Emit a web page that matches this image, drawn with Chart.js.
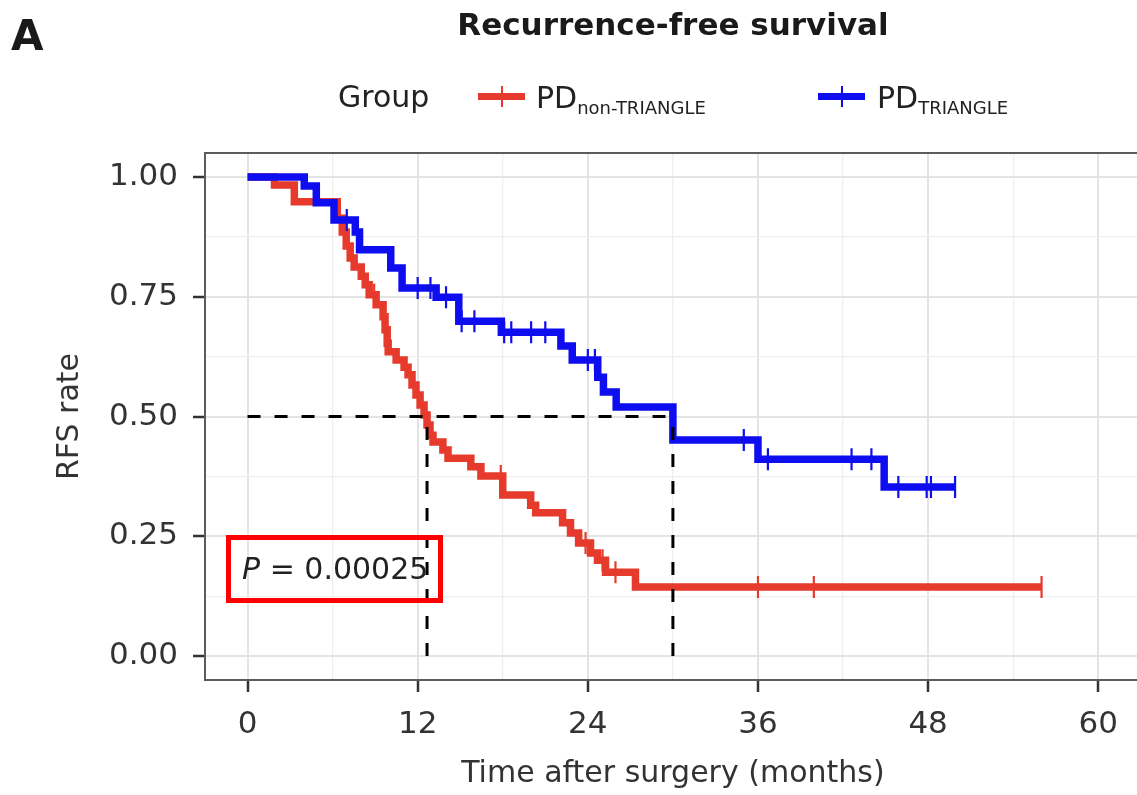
<!DOCTYPE html>
<html>
<head>
<meta charset="utf-8">
<title>Recurrence-free survival</title>
<script src="https://cdn.jsdelivr.net/npm/chart.js@4.4.1/dist/chart.umd.min.js"></script>
<style>
  html, body { margin: 0; padding: 0; background: #fff; overflow: hidden; }
  #wrap { position: relative; width: 1137px; height: 795px; overflow: hidden;
          font-family: 'DejaVu Sans', sans-serif; color: #222; }
  #km { position: absolute; left: 0; top: 0; }
  .txt { position: absolute; white-space: nowrap; line-height: 1; }
  #panelTag { left: 11px; top: 15px; font-size: 42px; font-weight: bold; color: #1a1a1a; }
  #title { left: 673px; top: 9px; font-size: 31px; font-weight: bold; transform: translateX(-50%); color: #1a1a1a; }
  #groupLbl { left: 338px; top: 82px; font-size: 30px; color: #222; }
  .lg { font-size: 30px; top: 83px; color: #222; }
  .lg .sb { font-size: 18px; vertical-align: -6px; }
  .seg { position: absolute; height: 7px; width: 47px; top: 93px; }
  .tk { position: absolute; width: 2px; height: 21px; top: 86px; }
  #pbox { position: absolute; left: 226px; top: 535px; width: 217px; height: 68px;
          box-sizing: border-box; border: 5px solid #ff0000; }
  #ptext { left: 242px; top: 554px; font-size: 30px; color: #222; }
</style>
</head>
<body>
<div id="wrap">
  <canvas id="km" width="1154" height="795"></canvas>
  <div class="txt" id="panelTag">A</div>
  <div class="txt" id="title">Recurrence-free survival</div>
  <div class="txt" id="groupLbl">Group</div>
  <div class="seg" id="segRed" style="left:478px"></div>
  <div class="tk" id="tkRed" style="left:501px"></div>
  <div class="txt lg" style="left:536px">PD<span class="sb">non-TRIANGLE</span></div>
  <div class="seg" id="segBlue" style="left:818px"></div>
  <div class="tk" id="tkBlue" style="left:841px"></div>
  <div class="txt lg" style="left:877px">PD<span class="sb">TRIANGLE</span></div>
  <div id="pbox"></div>
  <div class="txt" id="ptext"><i>P</i> = 0.00025</div>
</div>
<script>
// Kaplan–Meier estimates: time (months) at which the estimate changes and its value from then on
const redTimes = [0, 1.9, 3.3, 6.33, 6.68, 6.96, 7.24, 7.52, 8.02, 8.30, 8.58, 9.07, 9.56, 9.70, 9.85, 9.92,
                  10.48, 11.04, 11.32, 11.60, 11.88, 12.17, 12.45, 12.66, 12.87, 13.08, 13.78, 14.14,
                  15.75, 16.46, 18.0, 19.97, 20.32, 22.22, 22.78, 23.35, 24.19, 24.68, 25.25, 27.36];
const redSurv  = [1.000, 0.983, 0.948, 0.914, 0.885, 0.856, 0.831, 0.812, 0.793, 0.775, 0.754, 0.733, 0.708, 0.681, 0.653, 0.635,
                  0.618, 0.603, 0.587, 0.566, 0.545, 0.524, 0.503, 0.482, 0.461, 0.447, 0.430, 0.413,
                  0.395, 0.376, 0.336, 0.315, 0.299, 0.278, 0.257, 0.236, 0.215, 0.200, 0.175, 0.144];
const redLastFollowUp = 56.0;
const redCensored = [8.93, 17.86, 23.84, 25.04, 25.95, 36.0, 39.94, 56.0];

const blueTimes = [0, 4.0, 4.85, 6.1, 7.6, 7.9, 10.1, 10.9, 13.3, 14.9, 17.9, 22.1, 22.9, 24.7, 25.1, 26.0, 30.0, 36.0, 44.9];
const blueSurv  = [1.000, 0.981, 0.946, 0.910, 0.885, 0.848, 0.810, 0.768, 0.749, 0.699, 0.676, 0.647, 0.618, 0.582, 0.551, 0.520, 0.451, 0.411, 0.353];
const blueLastFollowUp = 49.9;
const blueCensored = [7.0, 12.0, 12.9, 14.0, 15.1, 16.0, 18.1, 18.6, 20.0, 21.0, 24.0, 24.5, 35.0, 36.7, 42.6, 44.0, 45.9, 47.9, 48.2, 49.9];

const groupNames = ['PD non-TRIANGLE', 'PD TRIANGLE'];
const xMajorTicks = [0, 12, 24, 36, 48, 60];
const xMinorTicks = [6, 18, 30, 42, 54];
const yMajorTicks = [0, 0.25, 0.5, 0.75, 1];
const yMinorTicks = [0.125, 0.375, 0.625, 0.875];

const RED = '#e63a2c';
const BLUE = '#0d0df0';

document.getElementById('segRed').style.background = RED;
document.getElementById('tkRed').style.background = RED;
document.getElementById('segBlue').style.background = BLUE;
document.getElementById('tkBlue').style.background = BLUE;

function stepPoints(times, surv, lastT) {
  const pts = times.map((t, i) => ({ x: t, y: surv[i] }));
  pts.push({ x: lastT, y: surv[surv.length - 1] });
  return pts;
}
function survivalAt(times, surv, t) {
  let v = surv[0];
  for (let i = 0; i < times.length; i++) if (times[i] <= t) v = surv[i];
  return v;
}
function medianTime(times, surv) {
  for (let i = 0; i < times.length; i++) if (surv[i] <= 0.5) return times[i];
  return null;
}

const redMedian = medianTime(redTimes, redSurv);
const blueMedian = medianTime(blueTimes, blueSurv);

const dashStyle = { borderColor: '#000', borderWidth: 3, borderDash: [13, 14], pointRadius: 0, fill: false, order: 0 };
const censorStyle = { type: 'scatter', pointStyle: 'line', rotation: 90, pointRadius: 11, pointHoverRadius: 11, pointBorderWidth: 2.2, order: 1 };

// Panel border: left, top and bottom of the plotting area
const panelBorder = {
  id: 'panelBorder',
  beforeDatasetsDraw(chart) {
    const { ctx, chartArea: a } = chart;
    ctx.save();
    ctx.strokeStyle = '#5c5c5c';
    ctx.lineWidth = 2;
    ctx.strokeRect(a.left, a.top, a.right - a.left, a.bottom - a.top);
    ctx.restore();
  }
};

const isMajor = (list, v) => list.some(m => Math.abs(m - v) < 1e-9);

new Chart(document.getElementById('km'), {
  type: 'line',
  data: {
    datasets: [
      Object.assign({ label: 'median', data: [{ x: 0, y: 0.5 }, { x: blueMedian, y: 0.5 }] }, dashStyle),
      Object.assign({ label: 'median', data: [{ x: redMedian, y: 0 }, { x: redMedian, y: 0.5 }] }, dashStyle),
      Object.assign({ label: 'median', data: [{ x: blueMedian, y: 0 }, { x: blueMedian, y: 0.5 }] }, dashStyle),
      Object.assign({ label: groupNames[1] + ' censored',
        data: blueCensored.map(t => ({ x: t, y: survivalAt(blueTimes, blueSurv, t) })),
        borderColor: BLUE, backgroundColor: BLUE }, censorStyle),
      Object.assign({ label: groupNames[0] + ' censored',
        data: redCensored.map(t => ({ x: t, y: survivalAt(redTimes, redSurv, t) })),
        borderColor: RED, backgroundColor: RED }, censorStyle),
      { label: groupNames[1], data: stepPoints(blueTimes, blueSurv, blueLastFollowUp),
        stepped: true, borderColor: BLUE, borderWidth: 7.5, pointRadius: 0, fill: false,
        borderJoinStyle: 'miter', borderCapStyle: 'butt', order: 2 },
      { label: groupNames[0], data: stepPoints(redTimes, redSurv, redLastFollowUp),
        stepped: true, borderColor: RED, borderWidth: 7.5, pointRadius: 0, fill: false,
        borderJoinStyle: 'miter', borderCapStyle: 'butt', order: 3 }
    ]
  },
  options: {
    responsive: false,
    animation: false,
    events: [],
    layout: { padding: { top: 153, right: 0, left: 0, bottom: 0 } },
    plugins: { legend: { display: false }, tooltip: { enabled: false }, title: { display: false } },
    scales: {
      x: {
        type: 'linear', min: -3, max: 63,
        afterBuildTicks: s => { s.ticks = xMajorTicks.concat(xMinorTicks).sort((a, b) => a - b).map(v => ({ value: v })); },
        afterFit: s => { s.height = 115; },
        border: { display: false },
        grid: {
          color: c => isMajor(xMajorTicks, c.tick.value) ? '#e4e4e4' : '#efefef',
          lineWidth: c => isMajor(xMajorTicks, c.tick.value) ? 2 : 1.3,
          tickColor: c => isMajor(xMajorTicks, c.tick.value) ? '#333' : 'rgba(0,0,0,0)',
          tickLength: 12, tickWidth: 2.5
        },
        ticks: {
          autoSkip: false, maxRotation: 0, padding: 14, color: '#333',
          font: { family: "'DejaVu Sans'", size: 31 },
          callback: v => isMajor(xMajorTicks, v) ? String(v) : ''
        },
        title: { display: true, text: 'Time after surgery (months)', color: '#333',
                 font: { family: "'DejaVu Sans'", size: 30 }, padding: { top: 0, bottom: 3 } }
      },
      y: {
        type: 'linear', min: -0.05, max: 1.05,
        afterBuildTicks: s => { s.ticks = yMajorTicks.concat(yMinorTicks).sort((a, b) => a - b).map(v => ({ value: v })); },
        afterFit: s => { s.width = 205; },
        border: { display: false },
        grid: {
          color: c => isMajor(yMajorTicks, c.tick.value) ? '#e4e4e4' : '#efefef',
          lineWidth: c => isMajor(yMajorTicks, c.tick.value) ? 2 : 1.3,
          tickColor: c => isMajor(yMajorTicks, c.tick.value) ? '#333' : 'rgba(0,0,0,0)',
          tickLength: 12, tickWidth: 2.5
        },
        ticks: {
          autoSkip: false, padding: 15, color: '#333',
          font: { family: "'DejaVu Sans'", size: 31 },
          callback: v => isMajor(yMajorTicks, v) ? v.toFixed(2) : ''
        },
        title: { display: true, text: 'RFS rate', color: '#333',
                 font: { family: "'DejaVu Sans'", size: 30 }, padding: { top: 52, bottom: 0 } }
      }
    }
  },
  plugins: [panelBorder]
});
</script>
</body>
</html>
